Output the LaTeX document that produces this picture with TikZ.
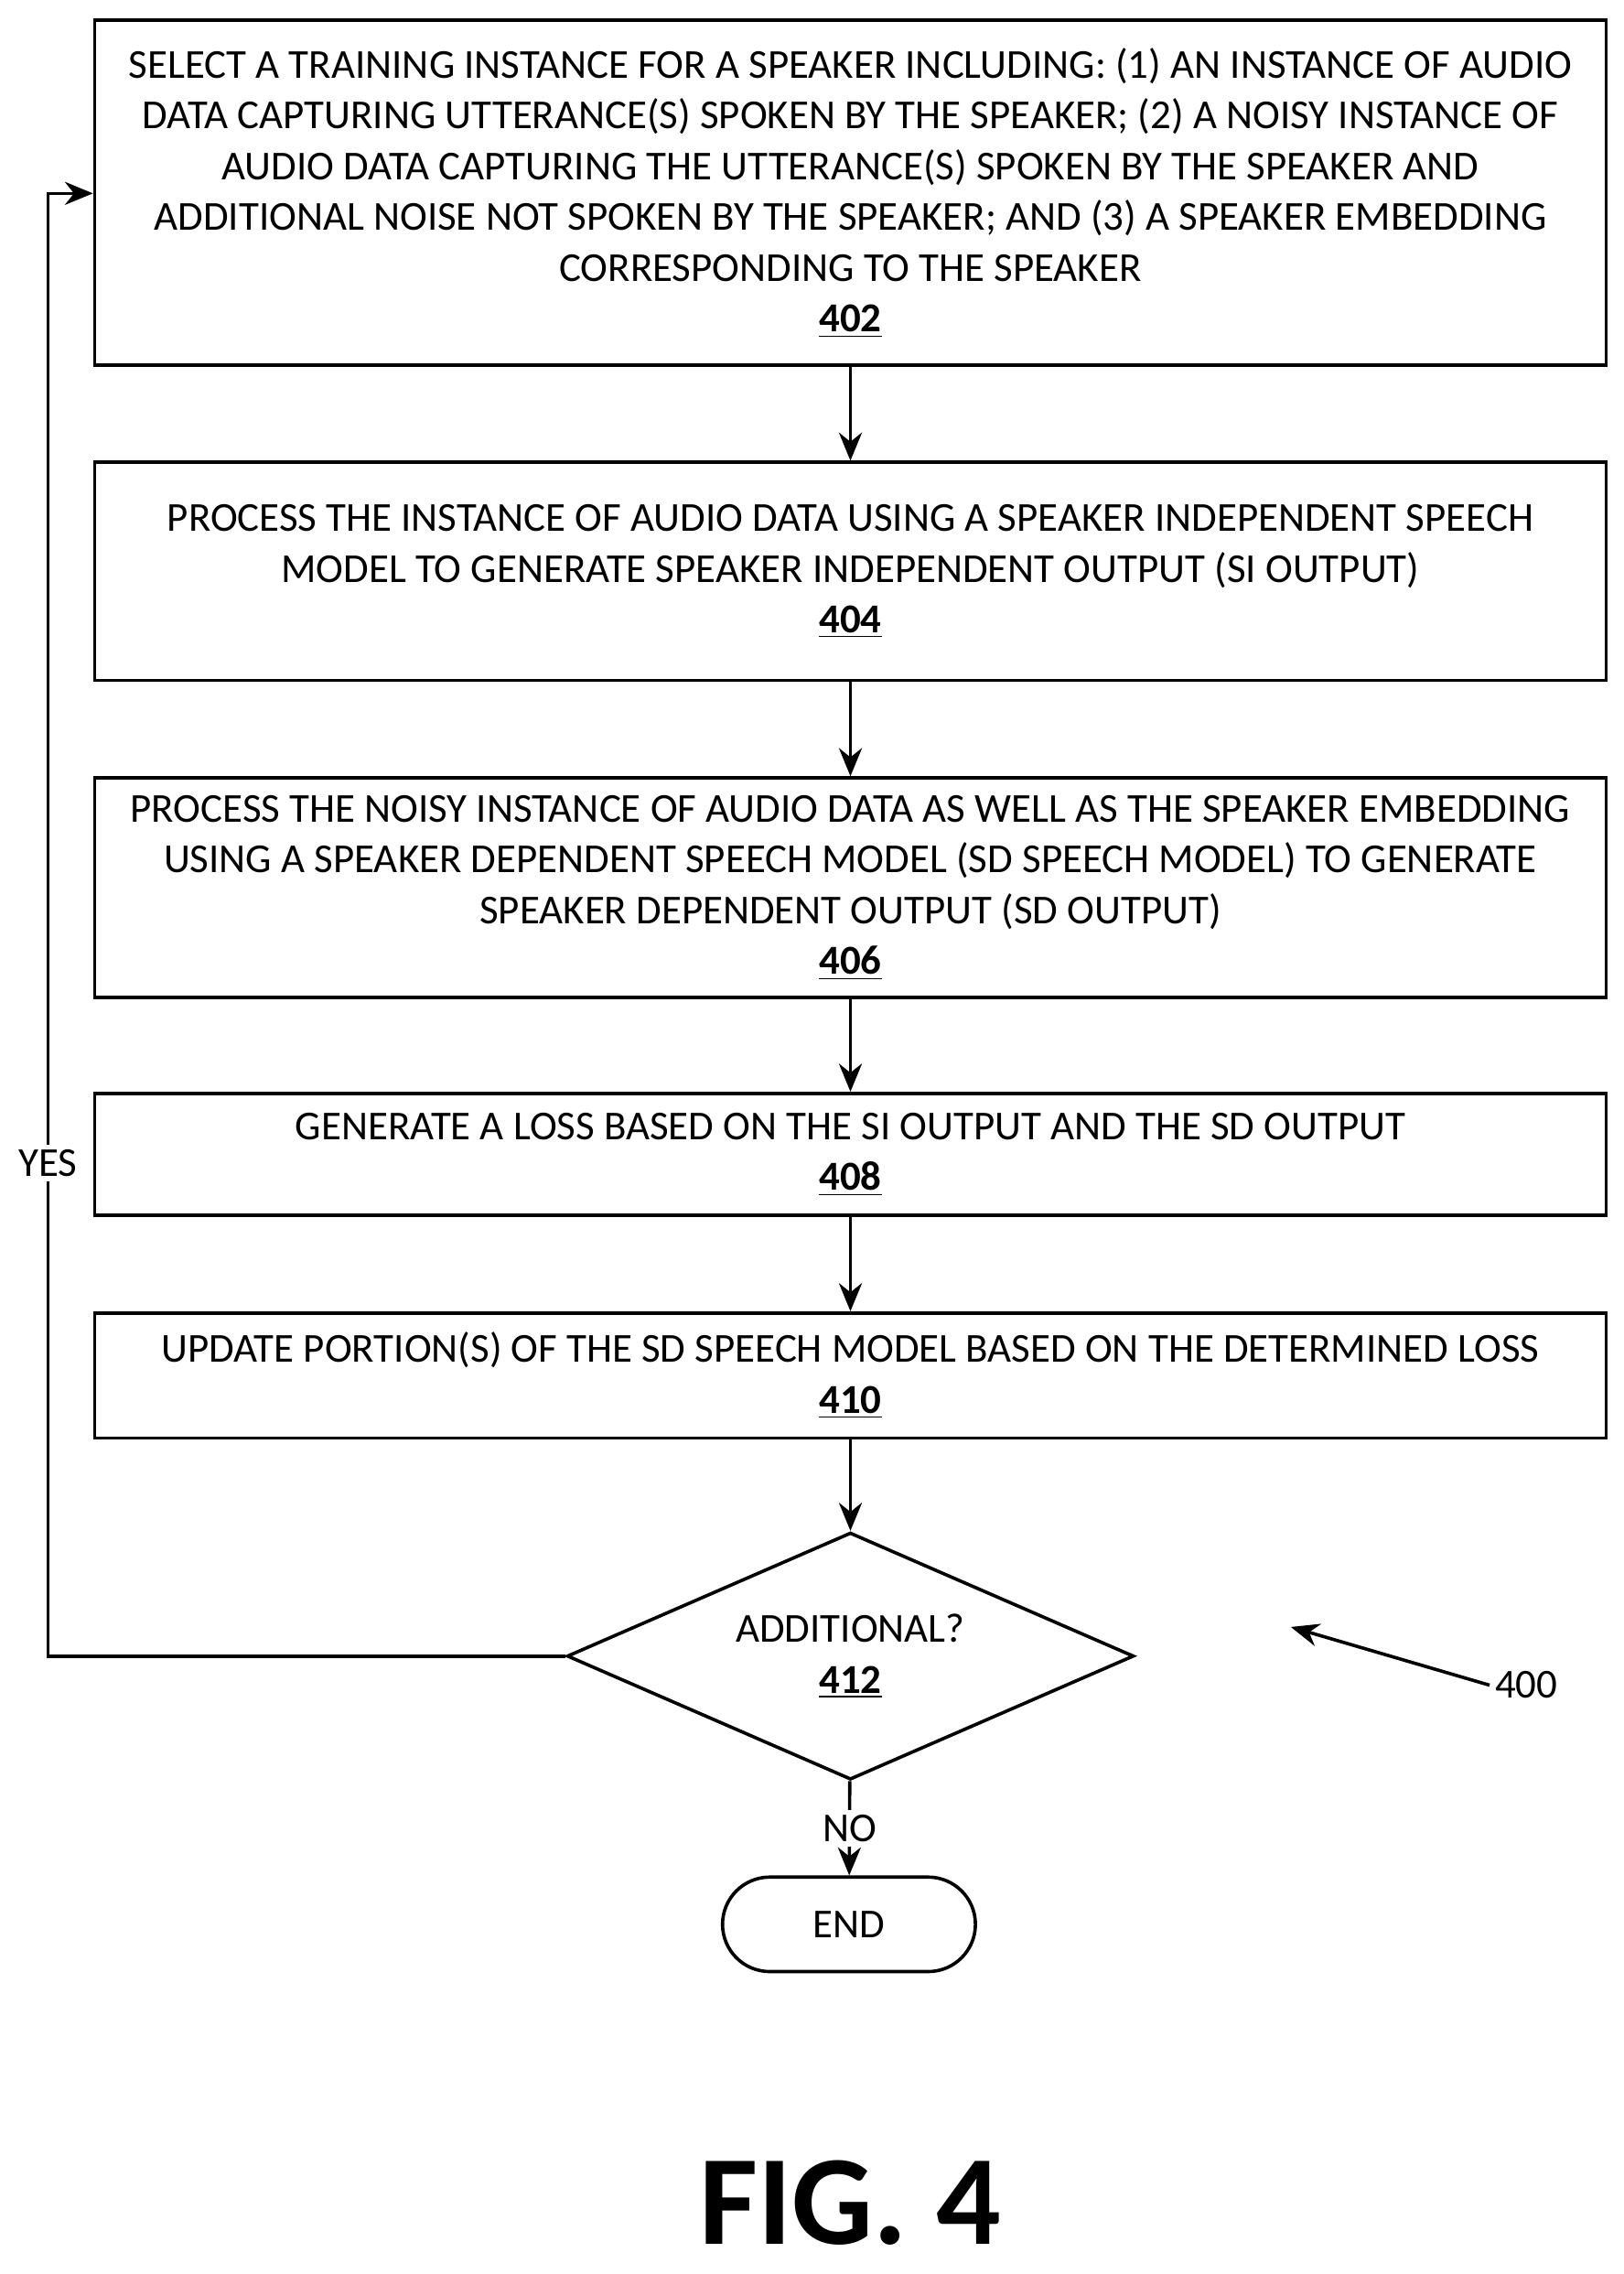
\documentclass[tikz,border=0pt]{standalone}
\usepackage{fontspec}
\setmainfont{Carlito}
\usetikzlibrary{shapes.geometric,arrows.meta}
\begin{document}
\begin{tikzpicture}[x=0.02cm,y=-0.02cm]
\tikzstyle{Step}=[draw, line width=1.3pt, minimum width=20.8cm, inner sep=0pt, align=center, font=\fontsize{16.1}{19.9}\selectfont];
\tikzstyle{Label}=[font=\fontsize{16.1}{19.9}\selectfont, inner sep=2pt];
\tikzstyle{seq}=[-{Stealth[length=11pt,width=9pt]}, line width=1.3pt];
\useasboundingbox (0,0) rectangle (1117,1564);
\node [Step,minimum height=4.74cm] (s402) at (585,132.5) {SELECT A TRAINING INSTANCE FOR A SPEAKER INCLUDING: (1) AN INSTANCE OF AUDIO\\DATA CAPTURING UTTERANCE(S) SPOKEN BY THE SPEAKER; (2) A NOISY INSTANCE OF\\AUDIO DATA CAPTURING THE UTTERANCE(S) SPOKEN BY THE SPEAKER AND\\ADDITIONAL NOISE NOT SPOKEN BY THE SPEAKER; AND (3) A SPEAKER EMBEDDING\\CORRESPONDING TO THE SPEAKER\\\textbf{\underline{402}}};
\node [Step,minimum height=3cm] (s404) at (585,393) {PROCESS THE INSTANCE OF AUDIO DATA USING A SPEAKER INDEPENDENT SPEECH\\MODEL TO GENERATE SPEAKER INDEPENDENT OUTPUT (SI OUTPUT)\\\textbf{\underline{404}}};
\node [Step,minimum height=3.02cm] (s406) at (585,610.5) {PROCESS THE NOISY INSTANCE OF AUDIO DATA AS WELL AS THE SPEAKER EMBEDDING\\USING A SPEAKER DEPENDENT SPEECH MODEL (SD SPEECH MODEL) TO GENERATE\\SPEAKER DEPENDENT OUTPUT (SD OUTPUT)\\\textbf{\underline{406}}};
\node [Step,minimum height=1.68cm] (s408) at (585,794) {GENERATE A LOSS BASED ON THE SI OUTPUT AND THE SD OUTPUT\\\textbf{\underline{408}}};
\node [Step,minimum height=1.72cm] (s410) at (585,946) {UPDATE PORTION(S) OF THE SD SPEECH MODEL BASED ON THE DETERMINED LOSS\\\textbf{\underline{410}}};
\node [draw, line width=1.3pt, diamond, aspect=2.3, minimum width=7.8cm, minimum height=3.4cm, inner sep=0pt, align=center, font=\fontsize{16.1}{19.9}\selectfont] (s412) at (585,1139) {ADDITIONAL?\\\textbf{\underline{412}}};
\node [draw, line width=1.3pt, rounded corners=0.65cm, minimum width=3.48cm, minimum height=1.3cm, font=\fontsize{16.1}{19.9}\selectfont] (end) at (584,1323.5) {END};
\draw [seq] (s402) -- (s404);
\draw [seq] (s404) -- (s406);
\draw [seq] (s406) -- (s408);
\draw [seq] (s408) -- (s410);
\draw [seq] (s410) -- (s412);
\draw [seq] (s412) -- node[Label, fill=white] (no) {NO} (end);
\coordinate (loop) at (33,1139);
\draw [seq] (s412.west) -- (loop) |- (s402.west |- 0,133);
\node [Label, fill=white] (yes) at (33,800) {YES};
\node [Label] (ref) at (1050,1159) {400};
\coordinate (tip) at (888,1119);
\draw [seq] (ref.west) -- (tip);
\node [font=\fontsize{50}{50}\bfseries] (fig) at (585,1515) {FIG. 4};
\end{tikzpicture}
\end{document}
